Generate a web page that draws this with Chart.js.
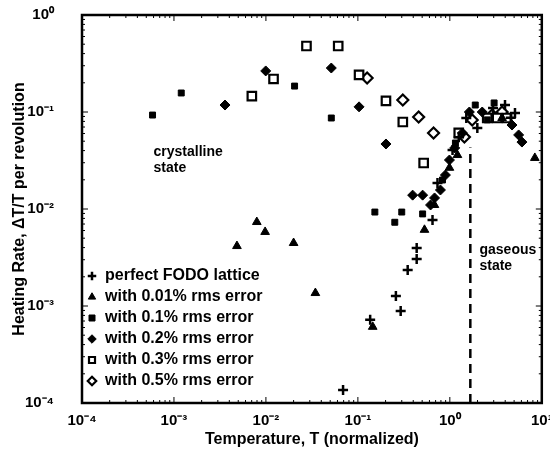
<!DOCTYPE html>
<html>
<head>
<meta charset="utf-8">
<script src="https://cdn.jsdelivr.net/npm/chart.js@4.4.1/dist/chart.umd.min.js"></script>
<style>
  html, body { margin: 0; padding: 0; background: #fff; }
  #wrap { width: 550px; height: 458px; }
</style>
</head>
<body>
<div id="wrap"><canvas id="heatChart"></canvas></div>
<script>
// values: temperature T (x) and heating rate dT/T (y)
const seriesNames = [
  'perfect FODO lattice',
  'with 0.01% rms error',
  'with 0.1% rms error',
  'with 0.2% rms error',
  'with 0.3% rms error',
  'with 0.5% rms error'
];

const fodoT    = [0.069, 0.136, 0.259, 0.292, 0.348, 0.436, 0.436, 0.648, 0.734, 1.07, 1.25, 1.51, 1.99, 2.95, 3.98, 5.11, 4.6];
const fodoRate = [1.36e-4, 7.2e-4, 1.27e-3, 8.9e-4, 2.35e-3, 3.05e-3, 3.96e-3, 7.7e-3, 0.0185, 0.0406, 0.055, 0.0867, 0.0684, 0.110, 0.118, 0.0977, 0.087];

const err001T    = [4.84e-3, 7.96e-3, 0.0098, 0.020, 0.0345, 0.145, 0.53, 0.68, 0.99, 1.21, 3.7, 8.4];
const err001Rate = [4.15e-3, 7.34e-3, 5.8e-3, 4.46e-3, 1.36e-3, 6.1e-4, 6.1e-3, 0.011, 0.0266, 0.036, 0.0867, 0.0336];

const err01T    = [5.85e-4, 1.2e-3, 0.0205, 0.0514, 0.153, 0.252, 0.30, 0.506, 0.832, 1.15, 1.89, 2.55, 3.03];
const err01Rate = [0.093, 0.157, 0.185, 0.0867, 0.0093, 0.0073, 0.0093, 0.0089, 0.0199, 0.0479, 0.118, 0.083, 0.124];

const err02T    = [3.59e-3, 9.95e-3, 0.0514, 0.103, 0.202, 0.394, 0.506, 0.617, 0.682, 0.79, 0.895, 0.99, 1.13, 1.37, 1.63, 2.25, 4.74, 5.6, 6.08];
const err02Rate = [0.118, 0.265, 0.284, 0.113, 0.0468, 0.0139, 0.0139, 0.011, 0.013, 0.0157, 0.0224, 0.032, 0.0426, 0.0608, 0.100, 0.100, 0.0734, 0.058, 0.049];

const err03T    = [7.03e-3, 0.0121, 0.0276, 0.0611, 0.103, 0.202, 0.308, 0.519, 1.25, 2.55, 3.27, 4.19];
const err03Rate = [0.146, 0.219, 0.479, 0.479, 0.241, 0.130, 0.0789, 0.0298, 0.061, 0.0867, 0.0867, 0.0867];

const err05T    = [0.126, 0.308, 0.458, 0.665, 1.44, 1.75, 2.88, 3.70];
const err05Rate = [0.224, 0.133, 0.0888, 0.0607, 0.0552, 0.0827, 0.0931, 0.100];

// transition temperature (dashed line)
const transitionT = 1.67;
const transitionRate = [1e-4, 0.043];

// decades for the tick labels
const xDecades = [-4, -3, -2, -1, 0, 1];
const yDecades = [-4, -3, -2, -1, 0];

const notes = [
  { text: ['crystalline', 'state'], T: 6e-4, rate: 0.039 },
  { text: ['gaseous', 'state'], T: 2.1, rate: 0.0038 }
];

const FONT = "'Liberation Sans', Arial, Helvetica, sans-serif";
const SUP = { '-': '\u207B', '0': '\u2070', '1': '\u00B9', '2': '\u00B2', '3': '\u00B3', '4': '\u2074' };

function toPoints(xs, ys) {
  return xs.map((x, i) => ({ x: x, y: ys[i] }));
}

function decadeLabel(value, decades) {
  const e = Math.round(Math.log10(value));
  if (!decades.includes(e) || Math.abs(Math.log10(value) - e) > 1e-6) return '';
  return '10' + String(e).split('').map(c => SUP[c]).join('');
}

function scatterSet(label, xs, ys, style, radius, filled, width) {
  return {
    type: 'scatter',
    label: label,
    data: toPoints(xs, ys),
    pointStyle: style,
    pointRadius: radius,
    pointHoverRadius: radius,
    borderWidth: width,
    borderColor: '#000',
    backgroundColor: filled ? '#000' : '#fff'
  };
}

// frame with inward log ticks on all four sides
const framePlugin = {
  id: 'frame',
  afterLayout(chart) {
    // legend sits a little lower in the original
    if (chart.legend) {
      chart.legend.top += 6;
      chart.legend.bottom += 6;
    }
  },
  afterDatasetsDraw(chart) {
    const { ctx, chartArea: a, scales } = chart;
    ctx.save();
    ctx.strokeStyle = '#000';
    ctx.lineWidth = 1;
    for (let d = -4; d < 1; d++) {
      for (let m = 1; m < 10; m++) {
        const px = scales.x.getPixelForValue(m * Math.pow(10, d));
        const len = m === 1 ? 6 : 3;
        ctx.beginPath();
        ctx.moveTo(px, a.bottom); ctx.lineTo(px, a.bottom - len);
        ctx.moveTo(px, a.top); ctx.lineTo(px, a.top + len);
        ctx.stroke();
      }
    }
    for (let d = -4; d < 0; d++) {
      for (let m = 1; m < 10; m++) {
        const py = scales.y.getPixelForValue(m * Math.pow(10, d));
        const len = m === 1 ? 6 : 3;
        ctx.beginPath();
        ctx.moveTo(a.left, py); ctx.lineTo(a.left + len, py);
        ctx.moveTo(a.right, py); ctx.lineTo(a.right - len, py);
        ctx.stroke();
      }
    }
    ctx.lineWidth = 2.5;
    ctx.strokeRect(a.left, a.top, a.right - a.left, a.bottom - a.top);

    // state annotations
    ctx.fillStyle = '#000';
    ctx.font = 'bold 14px ' + FONT;
    ctx.textBaseline = 'middle';
    notes.forEach(n => {
      const px = scales.x.getPixelForValue(n.T);
      const py = scales.y.getPixelForValue(n.rate);
      n.text.forEach((t, i) => ctx.fillText(t, px, py + i * 16));
    });
    ctx.restore();
  }
};

document.addEventListener('DOMContentLoaded', function () {
  const ctx = document.getElementById('heatChart').getContext('2d');
  new Chart(ctx, {
    type: 'scatter',
    data: {
      datasets: [
        scatterSet(seriesNames[0], fodoT, fodoRate, 'cross', 5, true, 2.5),
        scatterSet(seriesNames[1], err001T, err001Rate, 'triangle', 5, true, 1),
        scatterSet(seriesNames[2], err01T, err01Rate, 'rect', 4.2, true, 1),
        scatterSet(seriesNames[3], err02T, err02Rate, 'rectRot', 5, true, 1),
        scatterSet(seriesNames[4], err03T, err03Rate, 'rect', 6, false, 2.2),
        scatterSet(seriesNames[5], err05T, err05Rate, 'rectRot', 5.5, false, 2.2),
        {
          type: 'line',
          label: 'transition',
          data: transitionRate.map(r => ({ x: transitionT, y: r })),
          borderColor: '#000',
          borderWidth: 2.5,
          borderDash: [9, 6],
          pointRadius: 0,
          fill: false
        }
      ]
    },
    options: {
      responsive: true,
      maintainAspectRatio: false,
      animation: false,
      layout: { padding: { left: 6, right: 5, top: 15, bottom: 5 } },
      plugins: {
        tooltip: { enabled: false },
        legend: {
          position: 'chartArea',
          align: 'end',
          labels: {
            usePointStyle: true,
            boxWidth: 10,
            boxHeight: 6,
            padding: 5,
            color: '#000',
            font: { family: FONT, size: 16, weight: 'bold' },
            filter: item => item.text !== 'transition'
          }
        }
      },
      scales: {
        x: {
          type: 'logarithmic',
          min: 1e-4,
          max: 10,
          grid: { display: false },
          border: { display: false },
          afterBuildTicks: scale => { scale.ticks = xDecades.map(e => ({ value: Math.pow(10, e) })); },
          afterFit: scale => { scale.height = 50; scale.paddingLeft = 0; scale.paddingRight = 0; },
          ticks: {
            autoSkip: false,
            maxRotation: 0,
            padding: 1,
            color: '#000',
            font: { family: FONT, size: 15, weight: 'bold' },
            callback: v => decadeLabel(v, xDecades)
          },
          title: {
            display: true,
            text: 'Temperature, T (normalized)',
            color: '#000',
            font: { family: FONT, size: 16, weight: 'bold' }
          }
        },
        y: {
          type: 'logarithmic',
          min: 1e-4,
          max: 1,
          grid: { display: false },
          border: { display: false },
          afterBuildTicks: scale => { scale.ticks = yDecades.map(e => ({ value: Math.pow(10, e) })); },
          afterFit: scale => { scale.width = 76; scale.paddingTop = 0; scale.paddingBottom = 0; },
          ticks: {
            autoSkip: false,
            padding: 20,
            color: '#000',
            font: { family: FONT, size: 15, weight: 'bold' },
            callback: v => decadeLabel(v, yDecades)
          },
          title: {
            display: true,
            text: 'Heating Rate, \u0394T/T per revolution',
            color: '#000',
            font: { family: FONT, size: 16, weight: 'bold' }
          }
        }
      }
    },
    plugins: [framePlugin]
  });
});
</script>
</body>
</html>
